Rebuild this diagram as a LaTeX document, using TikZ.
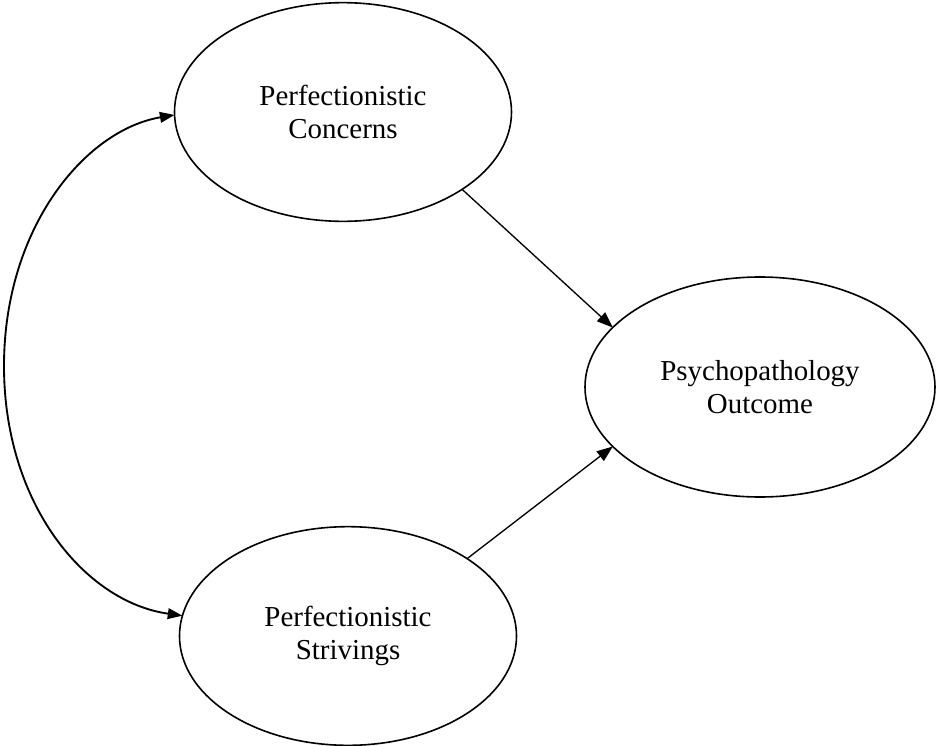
\documentclass[tikz,border=0pt]{standalone}
\usepackage{fontspec}
\setmainfont{Liberation Serif}
\usepackage{tikz}
\usetikzlibrary{shapes.geometric}
\usetikzlibrary{arrows.meta}
\tikzset{
	latent/.style={shape=ellipse,draw,line width=1.2pt,inner sep=0pt,outer sep=0pt,
		minimum width=252.75pt,minimum height=164pt,align=center,
		font=\fontsize{21.7pt}{24.8pt}\selectfont},
	path/.style={line width=1pt,-{Triangle[length=12pt,width=9pt]}},
	covar/.style={line width=1.4pt,{Triangle[length=11pt,width=8pt]}-{Triangle[length=11pt,width=8pt]}}
}

\begin{document}
\begin{tikzpicture}[x=0.75pt,y=-0.75pt]
	\useasboundingbox (0,0) rectangle (936,746);
	\draw (343,112) node (pc) [latent] {Perfectionistic\\Concerns};
	\draw (348,636) node (ps) [latent] {Perfectionistic\\Strivings};
	\draw (760,387) node (po) [latent,minimum width=262.5pt,minimum height=165pt] {Psychopathology\\Outcome};
	\draw[path] (pc.-33) -- (po.158);
	\draw[path] (ps.33) -- (po.202);
	\coordinate (mid) at (4,366);
	\draw[covar] (pc.181) .. controls (85,130) and (4,228) .. (mid) .. controls (4,504) and (85,602) .. (ps.173);
\end{tikzpicture}
\end{document}
